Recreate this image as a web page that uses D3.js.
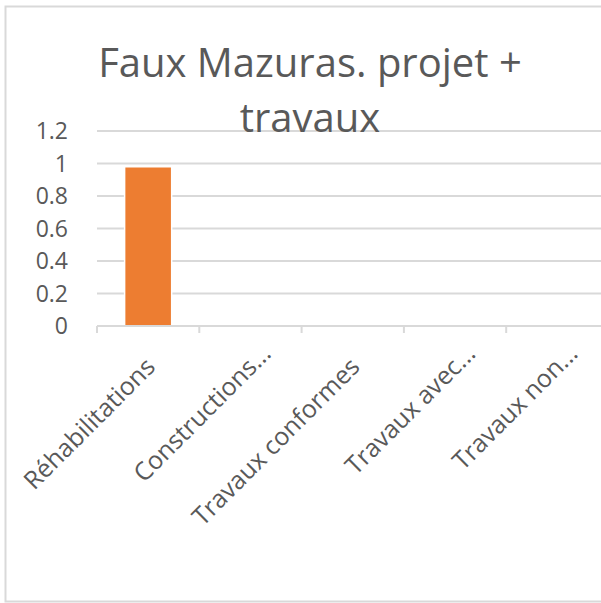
<!DOCTYPE html>
<html lang="fr">
<head>
<meta charset="utf-8">
<title>Faux Mazuras</title>
<script src="https://cdn.jsdelivr.net/npm/d3@7"></script>
<style>
body { margin: 0; background: #fff; }
svg text { font-family: "Open Sans", "Noto Sans", sans-serif; fill: #595959; }
</style>
</head>
<body>
<script>
// data
var categories = ["Réhabilitations", "Constructions...", "Travaux conformes", "Travaux avec...", "Travaux non..."];
var values = [0.98, 0, 0, 0, 0];
var yTicks = [0, 0.2, 0.4, 0.6, 0.8, 1, 1.2];
var titleLines = ["Faux Mazuras. projet +", "travaux"];

var w = 601, h = 603;
var svg = d3.select("body").append("svg").attr("width", w).attr("height", h);

// chart frame (runs off the right side)
svg.append("rect")
  .attr("x", 5.5).attr("y", 6.5).attr("width", 720).attr("height", 595)
  .attr("fill", "none").attr("stroke", "#d9d9d9").attr("stroke-width", 2);

var plotLeft = 97, plotRight = 608.5, plotTop = 131, plotBottom = 326;

var x = d3.scaleBand().domain(categories).range([plotLeft, plotRight]).paddingInner(0.54).paddingOuter(0.27);
var y = d3.scaleLinear().domain([0, 1.2]).range([plotBottom, plotTop]);

// gridlines
svg.append("g").selectAll("line")
  .data(yTicks.filter(function(d) { return d > 0; }))
  .enter().append("line")
  .attr("x1", plotLeft).attr("x2", plotRight)
  .attr("y1", function(d) { return y(d); }).attr("y2", function(d) { return y(d); })
  .attr("stroke", "#d9d9d9").attr("stroke-width", 2);

// y labels
svg.append("g").selectAll("text")
  .data(yTicks).enter().append("text")
  .attr("x", 68).attr("y", function(d) { return y(d); })
  .attr("dy", "0.36em")
  .attr("text-anchor", "end")
  .style("font-size", "23px")
  .text(function(d) { return d; });

// bars
svg.append("g").selectAll("rect")
  .data(values).enter().append("rect")
  .attr("x", function(d, i) { return x(categories[i]); })
  .attr("width", x.bandwidth())
  .attr("y", function(d) { return y(d); })
  .attr("height", function(d) { return y(0) - y(d); })
  .attr("fill", "#ed7d31")
  .attr("stroke", "#fff").attr("stroke-width", 1.5);

// category axis
svg.append("line")
  .attr("x1", plotLeft).attr("x2", plotRight).attr("y1", plotBottom).attr("y2", plotBottom)
  .attr("stroke", "#d9d9d9").attr("stroke-width", 2);

var step = x.step();
svg.append("g").selectAll("line")
  .data(d3.range(categories.length + 1)).enter().append("line")
  .attr("x1", function(i) { return plotLeft + i * step; })
  .attr("x2", function(i) { return plotLeft + i * step; })
  .attr("y1", plotBottom).attr("y2", plotBottom + 7)
  .attr("stroke", "#d9d9d9").attr("stroke-width", 2);

// rotated category labels; truncated ones sit a bit further up the diagonal
var r = Math.SQRT1_2;
svg.append("g").selectAll("text")
  .data(categories).enter().append("text")
  .attr("text-anchor", "end")
  .style("font-size", "25px")
  .attr("transform", function(d) {
    var perp = 36, along = /\.\.\.$/.test(d) ? -5 : -24;
    var cx = x(d) + x.bandwidth() / 2 + r * (perp + along);
    var cy = plotBottom + r * (perp - along);
    return "translate(" + cx + "," + cy + ") rotate(-45)";
  })
  .text(function(d) { return d; });

// title
svg.append("text")
  .attr("text-anchor", "middle")
  .style("font-size", "40px")
  .selectAll("tspan").data(titleLines).enter().append("tspan")
  .attr("x", 310)
  .attr("y", function(d, i) { return 77 + i * 55; })
  .text(function(d) { return d; });
</script>
</body>
</html>
